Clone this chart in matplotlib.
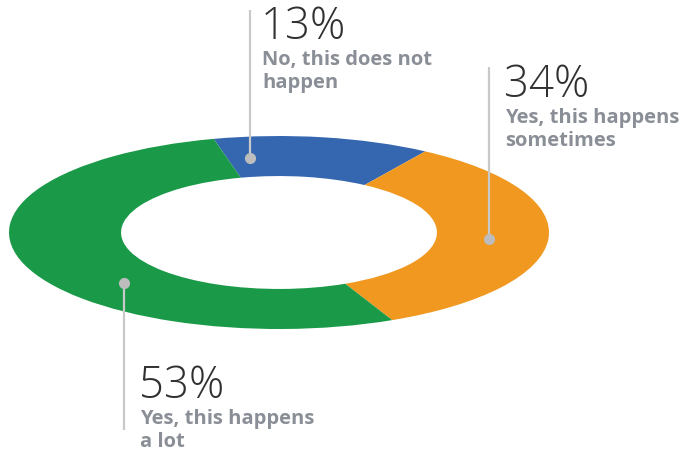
import numpy as np
import matplotlib
matplotlib.use("Agg")
import matplotlib.pyplot as plt

# survey answers, drawn clockwise from the top
labels = [["No, this does not", "happen"],
          ["Yes, this happens", "sometimes"],
          ["Yes, this happens", "a lot"]]
shares = [13, 34, 53]
colors = ["#3567b1", "#f0981f", "#1a9a48"]

# where each leader dot sits on the ring (degrees) and where its text goes (pixels)
anchor_angles = [98, -5, 222.5]
text_pos = [(261, 39), (504, 97), (139, 398)]
line_ends = [10, 67, 430]

W, H = 694, 455
fig = plt.figure(figsize=(W / 100, H / 100), dpi=100)
# stretched axes turn the round pie into a flat ellipse
ax = fig.add_axes([9 / W, (H - 329) / H, 540 / W, 193 / H])
ax.pie(shares, colors=colors, startangle=104, counterclock=False,
       wedgeprops=dict(width=0.415, linewidth=0))
ax.set_aspect("auto")
ax.set_xlim(-1, 1)
ax.set_ylim(-1, 1)
ax.axis("off")

r_mid = 0.78
inv = ax.transData.inverted()
for ang, (tx, ty), yend, share, lab in zip(anchor_angles, text_pos, line_ends, shares, labels):
    dx = r_mid * np.cos(np.radians(ang))
    dy = r_mid * np.sin(np.radians(ang))
    # end of the leader line, from pixel height to data units
    _, y2 = inv.transform((0, H - yend))
    ax.plot([dx, dx], [dy, y2], color="#c9c9c9", lw=1.6, clip_on=False, zorder=1,
            solid_capstyle="butt")
    ax.plot(dx, dy, "o", ms=7, color="#bdbdbd", clip_on=False, zorder=3)
    fig.text(tx / W, 1 - ty / H, f"{share}%", fontsize=31.5, family="Open Sans",
             fontweight="light", color="#303030", va="baseline", ha="left")
    for i, line in enumerate(lab):
        fig.text((tx + 1) / W, 1 - (ty + 26 + 23 * i) / H, line, fontsize=14.5,
                 family="Open Sans", fontweight="bold", color="#8a8e96",
                 va="baseline", ha="left")

fig.savefig("out.png", dpi=100)
